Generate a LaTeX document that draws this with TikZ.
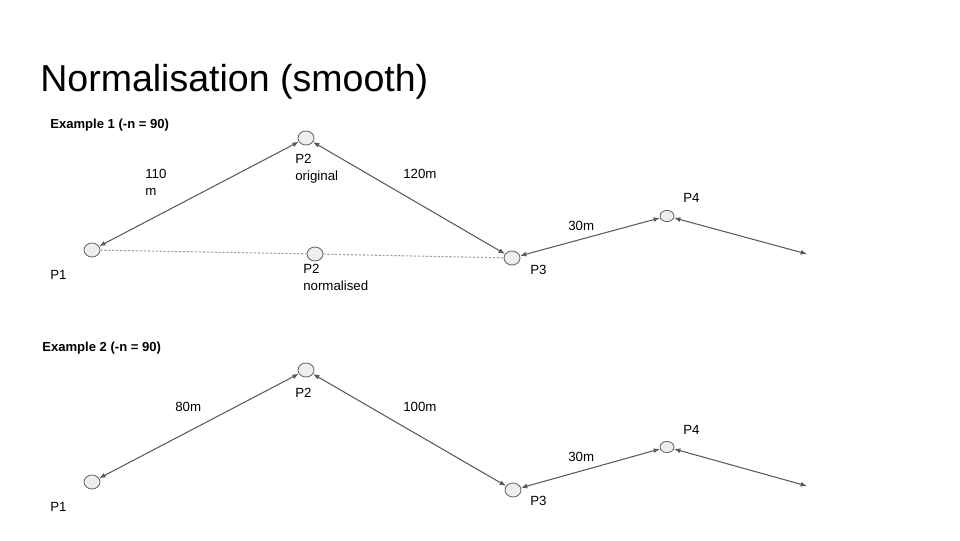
\documentclass[tikz,border=0pt]{standalone}
\usepackage{fontspec}
\setmainfont{Liberation Sans}
\usetikzlibrary{arrows.meta}
\usetikzlibrary{shapes.geometric}

\definecolor{linegray}{HTML}{595959}
\definecolor{nodefill}{HTML}{EEEEEE}
\definecolor{nodeline}{HTML}{666666}

\begin{document}
\begin{tikzpicture}[
        point/.style={ellipse, draw=nodeline, fill=nodefill, line width=0.6pt, inner sep=0pt, minimum width=0.4cm, minimum height=0.35cm},
        smallpoint/.style={point, minimum width=0.35cm, minimum height=0.28cm},
        lbl/.style={anchor=west, align=left, inner sep=0pt, font=\fontsize{9.45}{12}\selectfont},
        hdr/.style={anchor=west, inner sep=0pt, font=\fontsize{9.3}{11}\selectfont\bfseries},
        link/.style={draw=linegray, line width=0.75pt, {Latex[length=4.5pt,width=3.5pt]}-{Latex[length=4.5pt,width=3.5pt]}},
        dots/.style={draw=gray!75, line width=0.75pt, dash pattern=on 1.6pt off 1.2pt}
    ]
        \useasboundingbox (0, 0) rectangle (24, 13.5);

        \node[anchor=base west, inner sep=0pt, font=\fontsize{26.7}{32}\selectfont] (title) at (1.0, 11.2) {Normalisation (smooth)};

        % Example 1
        \node[hdr] (ex1) at (1.25, 10.375) {Example 1 (-n = 90)};
        \node[point] (p1a) at (2.3, 7.25) {};
        \node[point] (p2a) at (7.65, 10.05) {};
        \node[point] (p2n) at (7.875, 7.15) {};
        \node[point] (p3a) at (12.8, 7.05) {};
        \node[smallpoint] (p4a) at (16.675, 8.1) {};
        \coordinate (enda) at (20.175, 7.15);

        \node[lbl] (p1alab) at (1.25, 6.63) {P1};
        \node[lbl] (p2alab) at (7.375, 9.29) {P2\\original};
        \node[lbl] (p2nlab) at (7.575, 6.56) {P2\\normalised};
        \node[lbl] (p3alab) at (13.25, 6.75) {P3};
        \node[lbl] (p4alab) at (17.075, 8.55) {P4};
        \node[lbl] (d12a) at (3.625, 8.94) {110\\m};
        \node[lbl] (d23a) at (10.075, 9.15) {120m};
        \node[lbl] (d34a) at (14.2, 7.85) {30m};

        \draw[dots] (p1a) -- (p2n);
        \draw[dots] (p2n) -- (p3a);
        \draw[link] (p1a) -- (p2a);
        \draw[link] (p2a) -- (p3a);
        \draw[link] (p3a) -- (p4a);
        \draw[link] (p4a) -- (enda);

        % Example 2
        \node[hdr] (ex2) at (1.05, 4.8) {Example 2 (-n = 90)};
        \node[point] (p1b) at (2.3, 1.45) {};
        \node[point] (p2b) at (7.65, 4.25) {};
        \node[point] (p3b) at (12.825, 1.25) {};
        \node[smallpoint] (p4b) at (16.675, 2.325) {};
        \coordinate (endb) at (20.175, 1.35);

        \node[lbl] (p1blab) at (1.25, 0.825) {P1};
        \node[lbl] (p2blab) at (7.375, 3.675) {P2};
        \node[lbl] (p3blab) at (13.25, 0.975) {P3};
        \node[lbl] (p4blab) at (17.075, 2.75) {P4};
        \node[lbl] (d12b) at (4.375, 3.325) {80m};
        \node[lbl] (d23b) at (10.075, 3.325) {100m};
        \node[lbl] (d34b) at (14.2, 2.075) {30m};

        \draw[link] (p1b) -- (p2b);
        \draw[link] (p2b) -- (p3b);
        \draw[link] (p3b) -- (p4b);
        \draw[link] (p4b) -- (endb);
    \end{tikzpicture}
\end{document}
